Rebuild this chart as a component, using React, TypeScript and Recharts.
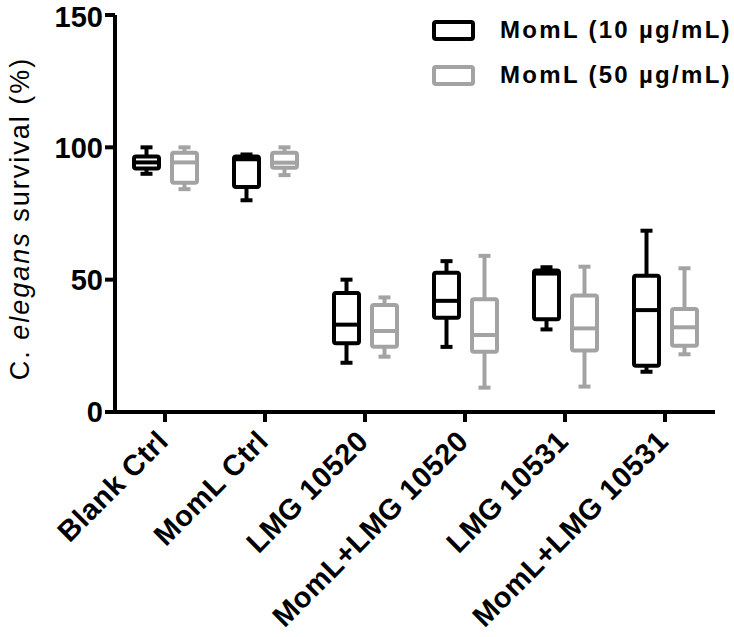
import React from "react";
import { ComposedChart, Bar, XAxis, YAxis, Label } from "recharts";

const categories = ["Blank Ctrl", "MomL Ctrl", "LMG 10520", "MomL+LMG 10520", "LMG 10531", "MomL+LMG 10531"];

// MomL (10 µg/mL): whisker min, Q1, median, Q3, whisker max
const min10 = [90, 80, 18.6, 24.6, 31.2, 15.2];
const q1_10 = [92, 85, 26, 35.6, 35, 17.5];
const med10 = [94.3, 95.5, 33, 42, 52.3, 38.5];
const q3_10 = [96.5, 96.5, 45, 52.6, 53.5, 51.5];
const max10 = [100, 97.3, 50, 57, 54.7, 68.5];

// MomL (50 µg/mL)
const min50 = [84.2, 89.5, 20.9, 9.2, 9.6, 21.8];
const q1_50 = [86.6, 92.3, 24.7, 22.8, 23.2, 25];
const med50 = [94.3, 94.2, 30.6, 29.1, 31.6, 32];
const q3_50 = [98, 98, 40.4, 42.6, 44, 38.9];
const max50 = [100, 100, 43.3, 59, 54.9, 54.3];

const yTicks = [0, 50, 100, 150];

const seriesNames = ["MomL (10 µg/mL)", "MomL (50 µg/mL)"];
const seriesColors = ["#000000", "#a3a3a3"];

const data = categories.map((name, i) => ({
  name,
  r10: [min10[i], max10[i]],
  r50: [min50[i], max50[i]],
}));

const FONT = "'Liberation Sans', Arial, sans-serif";

const makeBox =
  (lo: number[], q1: number[], med: number[], q3: number[], hi: number[], color: string) =>
  (props: any) => {
    const { x, y, width, height, index } = props;
    const top = Math.min(y, y + height);
    const h = Math.abs(height);
    const span = hi[index] - lo[index] || 1;
    const py = (v: number) => top + (h * (hi[index] - v)) / span;
    const cx = x + width / 2;
    const cap = 6;
    const sw = 4;
    return (
      <g stroke={color} strokeWidth={sw} fill="none">
        <line x1={cx} x2={cx} y1={py(hi[index])} y2={py(q3[index])} />
        <line x1={cx} x2={cx} y1={py(q1[index])} y2={py(lo[index])} />
        <line x1={cx - cap} x2={cx + cap} y1={py(hi[index])} y2={py(hi[index])} />
        <line x1={cx - cap} x2={cx + cap} y1={py(lo[index])} y2={py(lo[index])} />
        <rect
          x={x}
          y={py(q3[index])}
          width={width}
          height={py(q1[index]) - py(q3[index])}
          rx={2}
          fill="#fff"
        />
        <line x1={x} x2={x + width} y1={py(med[index])} y2={py(med[index])} />
      </g>
    );
  };

const Box10 = makeBox(min10, q1_10, med10, q3_10, max10, seriesColors[0]);
const Box50 = makeBox(min50, q1_50, med50, q3_50, max50, seriesColors[1]);

const XTick = (props: any) => {
  const { x, y, payload } = props;
  return (
    <g transform={`translate(${x + 5},${y + 19})`}>
      <text
        x={0}
        y={0}
        textAnchor="end"
        transform="rotate(-45)"
        fontFamily={FONT}
        fontWeight="bold"
        fontSize={29}
        letterSpacing={0.5}
        fill="#000"
      >
        {payload.value}
      </text>
    </g>
  );
};

const YLabel = (props: any) => {
  const { viewBox } = props;
  const cy = viewBox.y + viewBox.height / 2 + 5;
  const lx = 29;
  return (
    <text
      x={lx}
      y={cy}
      transform={`rotate(-90, ${lx}, ${cy})`}
      textAnchor="middle"
      fontFamily={FONT}
      fontSize={27}
      letterSpacing={2}
      fill="#000"
    >
      C. <tspan fontStyle="italic">elegans</tspan> survival (%)
    </text>
  );
};

const LegendBox = () => (
  <svg width={314} height={100} style={{ position: "absolute", left: 420, top: 0 }}>
    {seriesNames.map((n, i) => (
      <g key={n}>
        <rect
          x={14}
          y={22 + i * 45}
          width={39}
          height={17}
          rx={2}
          fill="#fff"
          stroke={seriesColors[i]}
          strokeWidth={4}
        />
        <text
          x={80}
          y={38 + i * 45}
          fontFamily={FONT}
          fontWeight="bold"
          fontSize={24}
          letterSpacing={2.3}
          fill="#000"
        >
          {n}
        </text>
      </g>
    ))}
  </svg>
);

export default function App() {
  return (
    <div style={{ position: "absolute", left: 0, top: 0, width: 734, height: 637, background: "#fff" }}>
      <ComposedChart
        width={734}
        height={637}
        data={data}
        margin={{ top: 15, right: 19, bottom: 195, left: 0 }}
        barSize={25}
        barGap={13}
      >
        <XAxis
          dataKey="name"
          interval={0}
          tick={<XTick />}
          tickSize={10}
          height={30}
          axisLine={{ stroke: "#000", strokeWidth: 4 }}
          tickLine={{ stroke: "#000", strokeWidth: 4 }}
        />
        <YAxis
          width={115}
          domain={[0, 150]}
          ticks={yTicks}
          tickSize={10}
          axisLine={{ stroke: "#000", strokeWidth: 4 }}
          tickLine={{ stroke: "#000", strokeWidth: 4 }}
          tick={{ fill: "#000", fontSize: 29, fontWeight: "bold", fontFamily: FONT }}
        >
          <Label content={<YLabel />} />
        </YAxis>
        <Bar dataKey="r10" name={seriesNames[0]} shape={Box10} isAnimationActive={false} />
        <Bar dataKey="r50" name={seriesNames[1]} shape={Box50} isAnimationActive={false} />
      </ComposedChart>
      <LegendBox />
    </div>
  );
}
